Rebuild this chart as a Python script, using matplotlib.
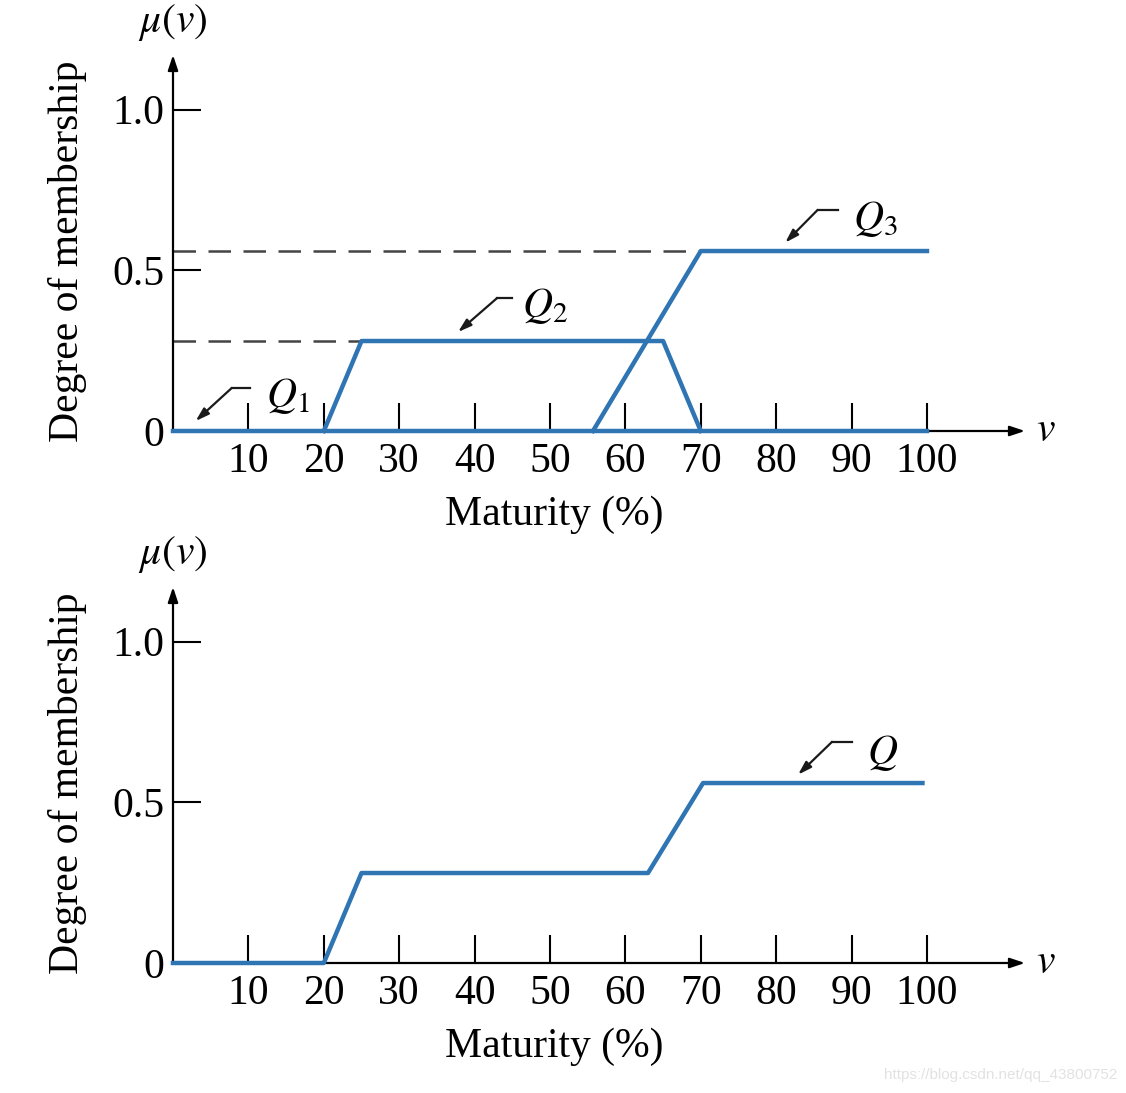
import matplotlib
matplotlib.use("Agg")
import matplotlib.pyplot as plt

# Dữ liệu
x_ticks = [10, 20, 30, 40, 50, 60, 70, 80, 90, 100]
y_ticks = [0, 0.5, 1.0]
y_tick_labels = ["0", "0.5", "1.0"]

q1_x = [0, 100]
q1_y = [0, 0]
q2_x = [20, 25, 65, 70]
q2_y = [0, 0.28, 0.28, 0]
q3_x = [55.7, 70, 100]
q3_y = [0, 0.56, 0.56]
q_x = [0, 20, 25, 63, 70.3, 99.4]
q_y = [0, 0, 0.28, 0.28, 0.56, 0.56]

BLUE = "#2f74b3"
FS = 30
XMAX, YMAX = 113, 1.17

plt.rcParams["font.family"] = ["Liberation Serif", "DejaVu Serif"]
plt.rcParams["mathtext.fontset"] = "stix"

fig = plt.figure(figsize=(11.26, 10.93), dpi=100)
W, H = 1126, 1093


def make_axes(axis_y_px):
    left = 173 / W
    width = (1025 - 173) / W
    height = 376 / H
    bottom = (H - axis_y_px) / H
    ax = fig.add_axes([left, bottom, width, height])
    ax.set_xlim(0, XMAX)
    ax.set_ylim(0, YMAX)
    for s in ax.spines.values():
        s.set_visible(False)
    ax.set_facecolor("none")

    # trục có mũi tên
    arrow = dict(arrowstyle="-|>,head_length=0.9,head_width=0.3", color="black",
                 lw=1.6, shrinkA=0, shrinkB=0)
    ax.annotate("", xy=(XMAX, 0), xytext=(0, 0), arrowprops=arrow, annotation_clip=False)
    ax.annotate("", xy=(0, YMAX), xytext=(0, 0), arrowprops=arrow, annotation_clip=False)

    ax.set_xticks(x_ticks)
    ax.set_xticklabels([str(t) for t in x_ticks])
    ax.set_yticks(y_ticks)
    ax.set_yticklabels(y_tick_labels)
    ax.tick_params(axis="x", direction="in", length=20, width=1.5, pad=8, labelsize=FS)
    ax.tick_params(axis="y", direction="in", length=20, width=1.5, pad=6, labelsize=FS)

    ax.text(50.5, -0.26, "Maturity (%)", fontsize=FS, ha="center", va="center")
    ax.text(-14.0, 0.56, "Degree of membership", fontsize=FS, rotation=90,
            ha="center", va="center")
    ax.text(0, 1.27, r"$\mu(v)$", fontsize=FS, ha="center", va="center")
    ax.text(115.8, 0, r"$v$", fontsize=FS, ha="center", va="center")
    return ax


def label(ax, txt, tip, bend, stub_end, text_pos):
    ax.annotate("", xy=tip, xytext=bend,
                arrowprops=dict(arrowstyle="-|>,head_length=0.8,head_width=0.25",
                                color="#1a1a1a", lw=1.6, shrinkA=0, shrinkB=0),
                annotation_clip=False)
    ax.plot([bend[0], stub_end], [bend[1], bend[1]], color="#1a1a1a", lw=1.6,
            clip_on=False)
    ax.text(text_pos[0], text_pos[1], txt, fontsize=FS, ha="left", va="center")


# Biểu đồ trên
ax1 = make_axes(431)
ax1.plot([0, 70], [0.56, 0.56], color="#444444", lw=1.8, dashes=(9, 5), zorder=2)
ax1.plot([0, 25], [0.28, 0.28], color="#444444", lw=1.8, dashes=(9, 5), zorder=2)
ax1.plot(q1_x, q1_y, color=BLUE, lw=3.2, zorder=4, clip_on=False)
ax1.plot(q2_x, q2_y, color=BLUE, lw=3.2, zorder=4, clip_on=False)
ax1.plot(q3_x, q3_y, color=BLUE, lw=3.2, zorder=4, clip_on=False)
label(ax1, r"$Q_1$", (3.0, 0.031), (7.8, 0.134), 10.2, (12.3, 0.11))
label(ax1, r"$Q_2$", (37.8, 0.308), (43.0, 0.414), 45.0, (46.3, 0.39))
label(ax1, r"$Q_3$", (81.2, 0.586), (85.5, 0.688), 88.2, (90.2, 0.66))

# Biểu đồ dưới
ax2 = make_axes(963)
ax2.plot(q_x, q_y, color=BLUE, lw=3.2, zorder=4, clip_on=False)
label(ax2, r"$Q$", (82.9, 0.586), (87.4, 0.688), 90.0, (92.0, 0.655))

fig.text(1117 / W, 1 - 1075 / H, "https://blog.csdn.net/qq_43800752",
         fontsize=11, color="#e2e2e2", ha="right", va="center",
         family=["Liberation Sans", "DejaVu Sans"])

fig.savefig("out.png", dpi=100)
